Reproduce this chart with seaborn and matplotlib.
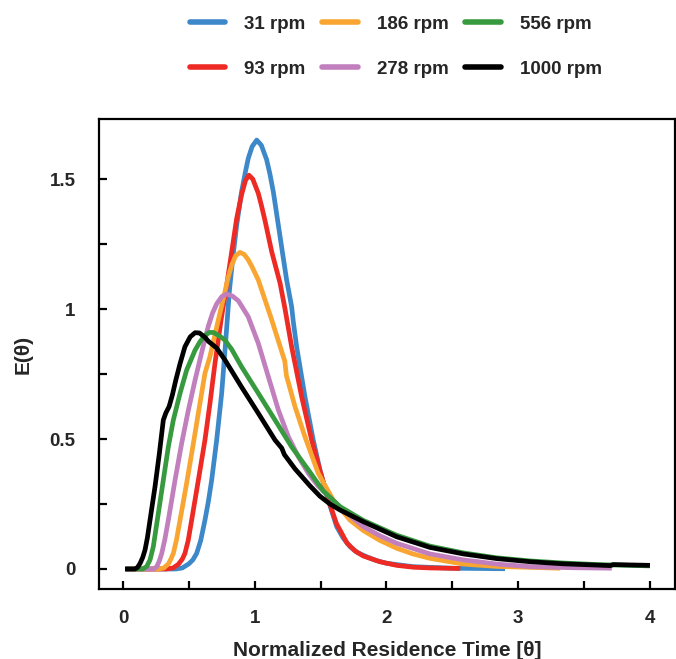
import pandas as pd
import matplotlib.pyplot as plt
import seaborn as sns

# E(theta) curves
theta_31 = [0.02, 0.40, 0.45, 0.50, 0.53, 0.559, 0.59, 0.622, 0.648, 0.673, 0.711, 0.749, 0.78, 0.807,
            0.833, 0.863, 0.90, 0.93, 0.951, 0.98, 1.015, 1.05, 1.09, 1.115, 1.141, 1.179, 1.217,
            1.242, 1.265, 1.28, 1.293, 1.318, 1.381, 1.444, 1.495, 1.558, 1.622, 1.67, 1.723, 1.78,
            1.85, 1.92, 2.0, 2.2, 2.5, 2.9]
e_31 = [0, 0, 0.004, 0.02, 0.035, 0.06, 0.11, 0.188, 0.26, 0.342, 0.496, 0.676, 0.88, 1.067,
        1.195, 1.323, 1.451, 1.53, 1.58, 1.625, 1.65, 1.63, 1.575, 1.52, 1.451, 1.323, 1.195,
        1.112, 1.05, 1.009, 0.95, 0.855, 0.663, 0.496, 0.381, 0.265, 0.163, 0.12, 0.086, 0.063,
        0.047, 0.033, 0.022, 0.009, 0.003, 0.001]

theta_93 = [0.02, 0.33, 0.38, 0.42, 0.45, 0.47, 0.495, 0.521, 0.572, 0.622, 0.66, 0.698, 0.745, 0.787,
            0.825, 0.863, 0.90, 0.93, 0.956, 0.985, 1.027, 1.05, 1.078, 1.129, 1.192, 1.23, 1.28,
            1.356, 1.432, 1.50, 1.56, 1.62, 1.70, 1.76, 1.824, 1.95, 2.077, 2.2, 2.33, 2.56]
e_93 = [0, 0, 0.004, 0.018, 0.038, 0.06, 0.11, 0.188, 0.342, 0.496, 0.637, 0.791, 0.96, 1.092,
        1.22, 1.349, 1.44, 1.495, 1.515, 1.50, 1.445, 1.40, 1.34, 1.22, 1.10, 1.0, 0.855,
        0.663, 0.496, 0.37, 0.265, 0.175, 0.10, 0.07, 0.05, 0.028, 0.014, 0.007, 0.004, 0.002]

theta_186 = [0.02, 0.27, 0.31, 0.345, 0.365, 0.382, 0.405, 0.433, 0.483, 0.534, 0.584, 0.622, 0.66,
             0.72, 0.774, 0.80, 0.825, 0.855, 0.888, 0.92, 0.95, 0.977, 1.027, 1.129, 1.217,
             1.228, 1.24, 1.306, 1.381, 1.482, 1.596, 1.723, 1.824, 1.95, 2.077, 2.2, 2.33, 2.583,
             2.836, 3.32]
e_186 = [0, 0, 0.004, 0.02, 0.04, 0.06, 0.11, 0.188, 0.33, 0.483, 0.637, 0.753, 0.817,
         0.95, 1.067, 1.125, 1.169, 1.205, 1.218, 1.21, 1.19, 1.165, 1.112, 0.958, 0.817,
         0.80, 0.745, 0.624, 0.509, 0.368, 0.265, 0.188, 0.148, 0.11, 0.08, 0.058, 0.041, 0.019,
         0.01, 0.003]

theta_278 = [0.02, 0.23, 0.255, 0.275, 0.294, 0.318, 0.344, 0.395, 0.445, 0.496, 0.547, 0.597,
             0.648, 0.68, 0.711, 0.75, 0.787, 0.83, 0.875, 0.951, 1.027, 1.103, 1.179, 1.255,
             1.331, 1.407, 1.48, 1.571, 1.698, 1.824, 1.95, 2.077, 2.33, 2.583, 2.836, 3.09, 3.4,
             3.71]
e_278 = [0, 0, 0.008, 0.03, 0.06, 0.115, 0.188, 0.342, 0.483, 0.611, 0.727, 0.833,
         0.935, 0.985, 1.02, 1.048, 1.058, 1.05, 1.032, 0.97, 0.868, 0.74, 0.612, 0.509,
         0.432, 0.368, 0.32, 0.275, 0.215, 0.163, 0.128, 0.099, 0.058, 0.035, 0.019, 0.009, 0.005,
         0.003]

theta_556 = [0.02, 0.15, 0.18, 0.205, 0.23, 0.268, 0.306, 0.344, 0.382, 0.433, 0.483, 0.547, 0.585,
             0.622, 0.655, 0.686, 0.72, 0.75, 0.774, 0.825, 0.90, 1.027, 1.154, 1.28, 1.407, 1.52,
             1.647, 1.824, 2.077, 2.33, 2.583, 2.836, 3.09, 3.34, 3.6, 4.0]
e_556 = [0, 0, 0.01, 0.035, 0.086, 0.214, 0.342, 0.47, 0.573, 0.676, 0.765, 0.842, 0.875,
         0.898, 0.91, 0.91, 0.90, 0.89, 0.88, 0.845, 0.778, 0.676, 0.573, 0.47, 0.381, 0.30,
         0.24, 0.187, 0.13, 0.088, 0.062, 0.043, 0.031, 0.023, 0.017, 0.012]

theta_1000 = [0.015, 0.09, 0.11, 0.13, 0.15, 0.167, 0.185, 0.205, 0.243, 0.276, 0.306, 0.325, 0.35,
              0.375, 0.40, 0.433, 0.47, 0.51, 0.547, 0.58, 0.62, 0.65, 0.711, 0.774, 0.90, 1.027,
              1.154, 1.205, 1.225, 1.306, 1.419, 1.495, 1.571, 1.647, 1.824, 2.077, 2.33, 2.583,
              2.836, 3.09, 3.34, 3.6, 3.7, 3.72, 4.0]
e_1000 = [0, 0, 0.006, 0.022, 0.045, 0.073, 0.12, 0.188, 0.317, 0.445, 0.573, 0.60, 0.625,
          0.67, 0.725, 0.79, 0.855, 0.893, 0.909, 0.908, 0.892, 0.875, 0.85, 0.804, 0.70, 0.599,
          0.496, 0.465, 0.44, 0.385, 0.32, 0.28, 0.25, 0.227, 0.182, 0.124, 0.083, 0.058,
          0.040, 0.028, 0.020, 0.015, 0.013, 0.017, 0.014]

labels = ['31 rpm', '93 rpm', '186 rpm', '278 rpm', '556 rpm', '1000 rpm']
colors = ['#3d88c9', '#ee2a24', '#f9a532', '#c17fbe', '#379a3f', '#000000']

series = [(theta_31, e_31), (theta_93, e_93), (theta_186, e_186),
          (theta_278, e_278), (theta_556, e_556), (theta_1000, e_1000)]
frames = []
for lab, (t, e) in zip(labels, series):
    frames.append(pd.DataFrame({'theta': t, 'E': e, 'speed': lab}))
df = pd.concat(frames, ignore_index=True)

sns.set_style('ticks')
plt.rcParams['font.family'] = ['Liberation Sans', 'DejaVu Sans']
plt.rcParams['font.weight'] = 'bold'

fig = plt.figure(figsize=(6.76, 6.59), dpi=100)
ax = fig.add_axes([0.1465, 0.1062, 0.852, 0.7132])

sns.lineplot(data=df, x='theta', y='E', hue='speed', hue_order=labels,
             palette=dict(zip(labels, colors)), estimator=None, sort=False,
             linewidth=3.4, ax=ax)
for line in ax.get_lines():
    line.set_solid_joinstyle('round')
    line.set_solid_capstyle('butt')

ax.set_xlim(-0.182, 4.19)
ax.set_ylim(-0.077, 1.731)
ax.set_xticks([0, 1, 2, 3, 4])
ax.set_xticklabels(['0', '1', '2', '3', '4'])
ax.set_xticks([0.5, 1.5, 2.5, 3.5], minor=True)
ax.set_yticks([0, 0.5, 1, 1.5])
ax.set_yticklabels(['0', '0.5', '1', '1.5'])
ax.set_yticks([0.25, 0.75, 1.25], minor=True)

ax.tick_params(axis='both', which='both', direction='in', length=5.5, width=1.6,
               color='black')
ax.tick_params(axis='x', which='major', pad=15, labelsize=13.5)
ax.tick_params(axis='y', which='major', pad=17, labelsize=13.5)
for s in ax.spines.values():
    s.set_linewidth(1.6)
    s.set_color('black')

ax.set_xlabel('Normalized Residence Time [θ]', fontsize=15, fontweight='bold', labelpad=10)
ax.set_ylabel('E(θ)', fontsize=15, fontweight='bold', labelpad=12)

sns.move_legend(ax, loc='center', bbox_to_anchor=(0.515, 1.154), ncol=3, frameon=False,
                title=None, fontsize=13.5, handlelength=1.9, handletextpad=1.0,
                columnspacing=0.9, labelspacing=1.5)
for line in ax.get_legend().get_lines():
    line.set_linewidth(4)
for txt in ax.get_legend().get_texts():
    txt.set_fontweight('bold')

fig.savefig('out.png', dpi=100)
